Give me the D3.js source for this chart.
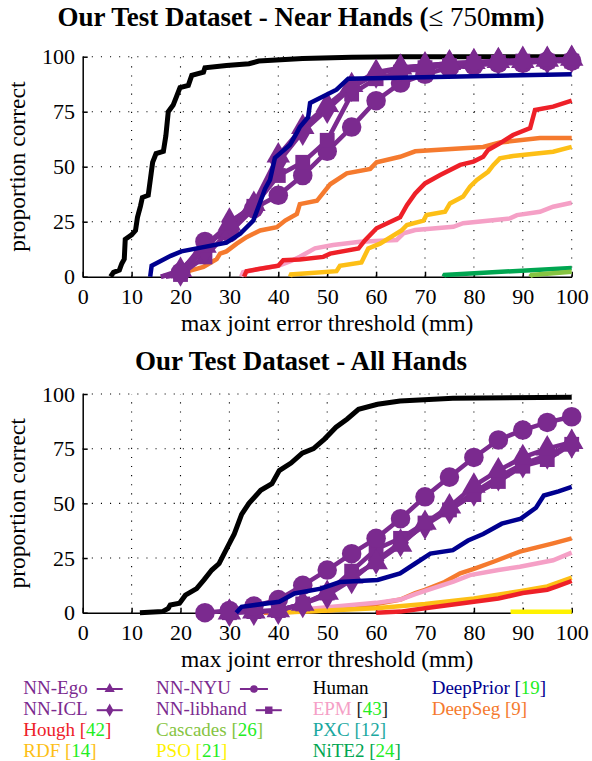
<!DOCTYPE html>
<html><head><meta charset="utf-8">
<script src="https://cdn.jsdelivr.net/npm/d3@7"></script>
</head><body style="margin:0;background:#fff">
<svg id="c" width="592" height="761" style="display:block"></svg>
<script>
// ---------- data ----------
const xTicks = [0,10,20,30,40,50,60,70,80,90,100];
const yTicks = [0,25,50,75,100];
const xGrid = [10,20,30,40,50,60,70,80,90,100];
const yGrid = [25,50,75,100];
const titles = ["Our Test Dataset - Near Hands (", "Our Test Dataset - All Hands"];
const xLabel = "max joint error threshold (mm)";
const yLabel = "proportion correct";

// Near hands (top)
const nearHuman = [[5.7,0],[6.3,2],[7.5,3],[8,6],[8.5,8],[8.7,17],[10,19],[10.8,21],[11.2,27],[11.8,32],[12.2,36],[13.4,37],[14,47],[14.3,52],[15,56],[16.5,57],[17,64],[17.5,75],[18.5,78],[19.2,82],[19.9,86],[21.6,87],[22.3,91.5],[24.7,93],[25,95],[29.4,96],[34,96.8],[36,98],[45,99.2],[55,99.7],[65,100],[100,100]];
const nearDeepPrior = [[13.8,0],[14.1,5],[18,9.5],[20.2,11.5],[29.4,15.5],[32.2,19.5],[34.9,25.5],[36.3,34],[37.3,40],[38.3,44],[39.3,54],[42.4,60],[43.8,65.5],[44.4,68],[46.1,72.5],[46.5,79],[51.9,85],[54.3,90],[100,92]];
const nearDeepSeg = [[21.5,0],[21.6,2.5],[24.7,4.5],[27.4,8],[28.1,10.5],[29.4,11.5],[31.5,15],[33.5,18],[36.3,21],[39.7,22.5],[41.4,25.5],[43.8,28.5],[44.4,33],[47.9,34.5],[50.6,42],[54,47],[58.8,49],[60.1,52],[64.9,54.5],[68,57],[81.9,59],[85.3,61],[93.5,63],[100,63]];
const nearHough = [[33,0],[33.5,2.5],[36,3.5],[40,5],[41,7.5],[44.4,7.8],[49.2,9],[50.6,10.5],[56.4,12.8],[57.7,16.5],[60.1,22],[64.9,27],[66.3,32.5],[68,37.8],[70,42.4],[73.1,46.2],[77.2,50.8],[79.9,52.3],[81.9,54.5],[82.9,57.6],[85.3,60.6],[88,64.4],[91.5,67.5],[92.5,75.8],[96.2,77.3],[100,80]];
const nearRDF = [[42.4,0],[42.6,1],[51.9,2.5],[52.6,5],[57,6.5],[58.4,12.8],[60.8,15],[65.2,21],[66.3,23.5],[69.7,25.5],[70.3,28],[74.1,29.5],[75.1,33.3],[77.8,36.4],[79.2,40.9],[80.6,44],[82.9,47.7],[84,50.8],[85.3,53.8],[88,54.9],[96.2,56.8],[100,59]];
const nearEPM = [[32.4,0],[32.8,2],[36,3.5],[40,5],[42.5,7],[44.4,9.1],[47.5,12.9],[51.2,14.4],[56.7,15.9],[64.2,16.7],[65.6,19.7],[68,21.2],[75.8,22.7],[77.8,24.3],[87.4,26.5],[88.8,28],[93.5,29.5],[96.2,31.8],[100,33.6]];
const nearNiTE2 = [[73.8,0],[74,0.8],[100,4]];
const nearCascades = [[91.5,0],[91.8,0.8],[100,2.2]];
const nearEgo = [[16,0],[20,3],[25,14],[30,24],[35,33],[40,55],[45,68],[50,78],[55,87],[60,93],[65,95],[70,96],[75,97],[80,97.5],[85,98],[90,98],[95,98.5],[100,99]];
const nearICL = [[16,0],[20,2],[25,12],[30,25],[35,32],[40,52],[45,66],[50,76],[55,86],[60,92],[65,95],[70,96],[75,97],[80,97.5],[85,98],[90,98.5],[95,98.5],[100,99]];
const nearLibhand = [[17,0],[20,1],[25,9],[30,21],[35,32],[40,46],[45,52],[50,62],[55,83],[60,90],[65,93],[70,95],[75,96],[80,97],[85,97.5],[90,98],[95,98],[100,98]];
const nearNYU = [[18,0],[20,2],[25,16],[30,20],[35,31],[40,37],[45,46],[50,57],[55,68],[60,80],[65,88],[70,92],[75,95],[80,96],[85,97],[90,97],[95,98],[100,98]];

// All hands (bottom)
const allHuman = [[11.7,0],[16.3,0.5],[17.5,2],[17.9,3.5],[19.8,4.3],[21,8],[23.3,11],[24.8,15],[26.4,19.5],[27.9,22.5],[29.5,29.5],[31,36],[32.5,45],[34,50],[36.4,56],[38.7,59],[40.2,65],[42.6,68.4],[44.9,73],[47.2,75],[49.5,79.5],[51.8,84.8],[54.1,88.6],[56.4,93],[60.3,95.3],[64.9,96.8],[75.7,98],[100,98.5]];
const allDeepPrior = [[31.4,0],[32.5,2.7],[40.2,5],[43.3,8.8],[48.7,11],[52.6,14],[60.3,15],[64.9,18],[68,22.5],[71.1,27],[75.7,28.6],[78.8,33],[81.9,36],[85.7,40.7],[89.6,43],[92.7,48],[94.3,53.6],[97.3,55.5],[100,57.5]];
const allDeepSeg = [[37,0],[45,0.5],[50,1],[55,2],[60,4],[65,6],[68,9],[70,10.4],[74,14],[77.2,18],[80,20],[84,23.3],[89.4,27.9],[96.2,31.7],[100,34]];
const allEPM = [[38,0],[45,1.5],[50,2.5],[55,3.5],[60,4.5],[65,6],[68,8.5],[70,10],[75.8,14.2],[79.2,17.2],[85,19.5],[89.4,21],[96.2,24],[100,27.5]];
const allRDF = [[40,0],[50,1],[60,2],[70,4],[80,6.5],[90,10],[95,12],[100,16]];
const allHough = [[60,0],[65,0.5],[70,2],[75,3.5],[80,5],[85,6.5],[90,9],[95,10.5],[97,12],[100,14.5]];
const allPSO = [[87.5,0.4],[100,0.4]];
const allNYU = [[25,0],[30,1],[35,3],[40,6],[45,12.5],[50,19.5],[55,27],[60,34],[65,43],[70,53],[75,62],[80,71],[85,79],[90,83.5],[95,87],[100,89.6]];
const allEgo = [[30,0],[35,0.5],[40,1],[45,4],[50,9],[55,16.5],[60,23],[65,31],[70,41],[75,48.5],[80,58],[85,65],[90,71],[95,75],[100,78]];
const allLibhand = [[30,0],[35,0.5],[40,1],[45,4],[50,9],[55,19],[60,29],[65,34],[70,41],[75,47],[80,54],[85,60],[90,67],[95,70],[100,77]];
const allICL = [[30,0],[35,0.5],[40,1],[45,4],[50,8],[55,15],[60,24],[65,32],[70,40],[75,47],[80,55],[85,62],[90,68],[95,72],[100,77]];

// legend
const legendLabels = ["NN-Ego","NN-ICL","Hough","RDF","NN-NYU","NN-libhand","Cascades","PSO","Human","EPM","PXC","NiTE2","DeepPrior","DeepSeg"];
const legendCites = ["","","42","14","","","26","21","","43","12","24","19","9"];

// ---------- styles ----------
const FONT = "Liberation Serif";
const C = {purple:"#7b2a8f", black:"#000", blue:"#00008f", orange:"#f57a2e", red:"#ee2028", rdf:"#fdbf16", pink:"#f5a0c6", lgreen:"#86c442", pso:"#fff200", teal:"#1aa8a0", green:"#00a651", cite:"#22ee22"};
const svg = d3.select("#c");
const W = {x0:82.7, x1:571.7};
const setFont = sel => sel.attr("font-family",FONT).style("font-family",FONT);

const panels = [
  {top:56.7, bot:276.7, titleY:26, xlabY:331,
   others:[
     {d:nearHuman, c:C.black, w:5},
     {d:nearEPM, c:C.pink, w:4.5},
     {d:nearDeepSeg, c:C.orange, w:4.5},
     {d:nearRDF, c:C.rdf, w:4.5},
     {d:nearHough, c:C.red, w:4.5},
     {d:nearNiTE2, c:C.green, w:4.5},
     {d:nearCascades, c:C.lgreen, w:4.5}],
   nn:[{d:nearNYU,m:"circle"},{d:nearLibhand,m:"square"},{d:nearICL,m:"diamond"},{d:nearEgo,m:"triangle"}],
   front:[{d:nearDeepPrior, c:C.blue, w:4.5}]},
  {top:394, bot:612.7, titleY:370, xlabY:667,
   others:[
     {d:allHuman, c:C.black, w:5},
     {d:allDeepSeg, c:C.orange, w:4.5},
     {d:allEPM, c:C.pink, w:4.5},
     {d:allRDF, c:C.rdf, w:4.5},
     {d:allHough, c:C.red, w:4.5},
     {d:allPSO, c:C.pso, w:4.5}],
   nn:[{d:allICL,m:"diamond"},{d:allLibhand,m:"square"},{d:allEgo,m:"triangle"},{d:allNYU,m:"circle"}],
   front:[{d:allDeepPrior, c:C.blue, w:4.5}]}
];

const symTypes = {circle:d3.symbolCircle, square:d3.symbolSquare, diamond:d3.symbolDiamond, triangle:d3.symbolTriangle};
const symSizes = {circle:300, square:220, diamond:240, triangle:240};

panels.forEach((p,i)=>{
  const x = d3.scaleLinear().domain([0,100]).range([W.x0,W.x1]);
  const y = d3.scaleLinear().domain([0,100]).range([p.bot,p.top]);
  const g = svg.append("g");
  g.selectAll(".gx").data(xGrid).enter().append("line")
    .attr("x1",d=>x(d)).attr("x2",d=>x(d)).attr("y1",y(0)).attr("y2",y(100))
    .attr("stroke","#000").attr("stroke-width",1.1).attr("stroke-dasharray","1.1,8");
  g.selectAll(".gy").data(yGrid).enter().append("line")
    .attr("x1",x(0)).attr("x2",x(100)).attr("y1",d=>y(d)).attr("y2",d=>y(d))
    .attr("stroke","#000").attr("stroke-width",1.1).attr("stroke-dasharray","1.1,8");
  const ax = g.append("g").attr("transform",`translate(0,${y(0)})`)
    .call(d3.axisBottom(x).tickValues(xTicks).tickSize(-5).tickSizeOuter(0).tickPadding(11.5));
  const ay = g.append("g").attr("transform",`translate(${x(0)},0)`)
    .call(d3.axisLeft(y).tickValues(yTicks).tickSize(-5).tickSizeOuter(0).tickPadding(7.7));
  [ax,ay].forEach(a=>{
    setFont(a).attr("font-size",22);
    setFont(a.selectAll("text")).attr("font-size",22).attr("fill","#000");
    a.selectAll("path,line").attr("stroke","#000").attr("stroke-width",1.5);
  });
  const line = d3.line().x(d=>x(d[0])).y(d=>y(d[1]));
  const drawLine = s => g.append("path").datum(s.d).attr("d",line).attr("fill","none")
      .attr("stroke",s.c).attr("stroke-width",s.w).attr("stroke-linejoin","miter");
  p.others.forEach(drawLine);
  p.nn.forEach(s=>{
    g.append("path").datum(s.d).attr("d",line).attr("fill","none").attr("stroke",C.purple).attr("stroke-width",4.5);
    g.selectAll(null).data(s.d.filter(d=>d[0]%5===0)).enter().append("path")
      .attr("d",d3.symbol().type(symTypes[s.m]).size(symSizes[s.m]))
      .attr("transform",d=>`translate(${x(d[0])},${y(d[1])})`).attr("fill",C.purple);
  });
  p.front.forEach(drawLine);
  const t = setFont(svg.append("text")).attr("x",301).attr("y",p.titleY).attr("text-anchor","middle")
    .attr("font-size",27).attr("font-weight","bold").text(titles[i]);
  if(i===0){
    t.append("tspan").attr("font-weight","normal").text("≤ 750");
    t.append("tspan").text("mm)");
  }
  setFont(svg.append("text")).attr("x",(W.x0+W.x1)/2).attr("y",p.xlabY).attr("text-anchor","middle")
    .attr("font-size",23.5).text(xLabel);
  setFont(svg.append("text")).attr("transform",`translate(25,${(p.top+p.bot)/2}) rotate(-90)`)
    .attr("text-anchor","middle").attr("font-size",23.5).text(yLabel);
});

// ---------- legend ----------
const legColors = [C.purple,C.purple,C.red,C.rdf,C.purple,C.purple,C.lgreen,C.pso,C.black,C.pink,C.teal,C.green,C.blue,C.orange];
const legMarkers = ["triangle","diamond",null,null,"circle","square",null,null,null,null,null,null,null,null];
const colX = [23.3,156,312.7,431.7];
const rowY = [693.5,714.7,736,757.2];
const legPos = [[0,0],[0,1],[0,2],[0,3],[1,0],[1,1],[1,2],[1,3],[2,0],[2,1],[2,2],[2,3],[3,0],[3,1]];
const lg = svg.append("g");
legendLabels.forEach((lab,k)=>{
  const [ci,ri] = legPos[k];
  const col = legColors[k];
  const t = setFont(lg.append("text")).attr("x",colX[ci]).attr("y",rowY[ri]).attr("font-size",19).attr("fill",col).text(lab);
  const cite = legendCites[k];
  if(cite){
    let bc = col, nc = C.cite;
    if(lab==="EPM") bc = "#222";
    if(lab==="DeepSeg") nc = col;
    if(lab==="PXC") nc = col;
    t.append("tspan").attr("fill",bc).text(" [");
    t.append("tspan").attr("fill",nc).text(cite);
    t.append("tspan").attr("fill",bc).text("]");
  }
  const m = legMarkers[k];
  if(m){
    const wtxt = t.node().getComputedTextLength();
    const lx0 = colX[ci]+wtxt+9, lx1 = lx0 + (m==="square"?26:(m==="circle"?28:26));
    const ly = rowY[ri]-4.5;
    lg.append("line").attr("x1",lx0).attr("x2",lx1).attr("y1",ly).attr("y2",ly).attr("stroke",C.purple).attr("stroke-width",2);
    const sz = {triangle:45,diamond:50,circle:45,square:55}[m];
    lg.append("path").attr("d",d3.symbol().type(symTypes[m]).size(sz)).attr("transform",`translate(${(lx0+lx1)/2},${ly})`).attr("fill",C.purple);
  }
});
</script></body></html>
